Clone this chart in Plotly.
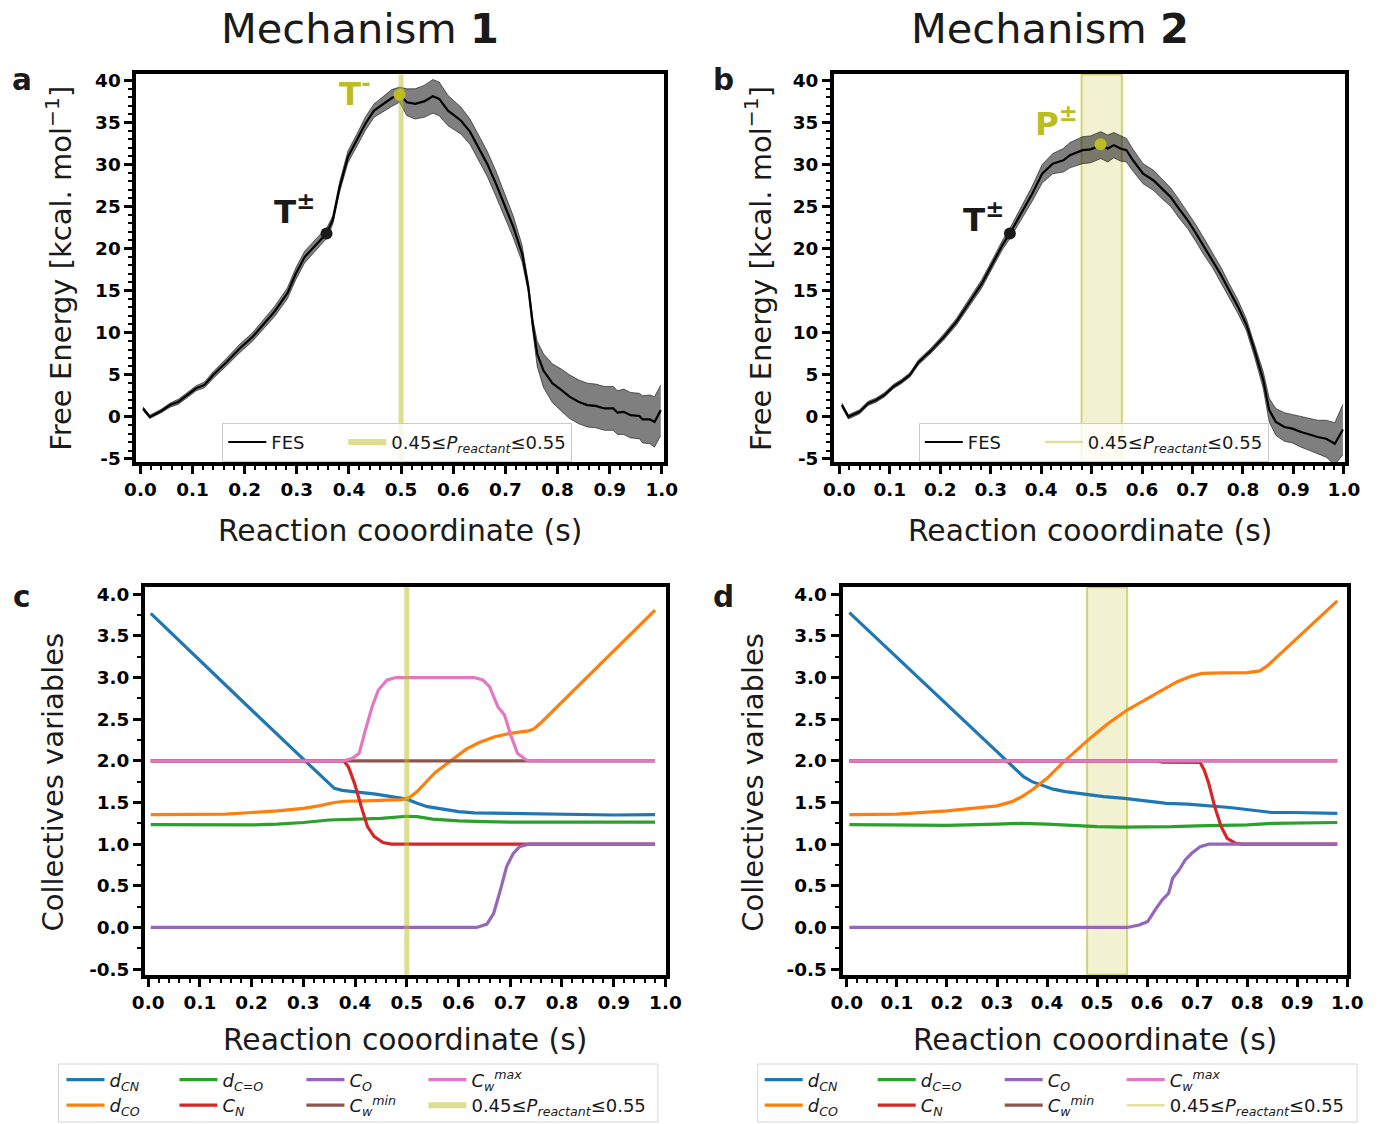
import numpy as np
import plotly.graph_objects as go

FONT = "DejaVu Sans"
W, H = 1379, 1124
OLIVE = "#bcbd22"

# Layout positions below are given in screen pixels; these constants convert
# them to figure pixels (screen = offset + scale * figure).
SX, OFF_X = 0.98, 12.5
SY, OFF_Y = 0.988, 4.5
RIGHT_COL, RIGHT_K = 833, 0.969   # right-hand panels are drawn slightly narrower

# ---------------- free-energy profiles ----------------
S_FES_1 = [0.005, 0.018, 0.04, 0.057, 0.073, 0.09, 0.107, 0.123, 0.14, 0.165, 0.19, 0.215,
           0.232, 0.257, 0.282, 0.298, 0.315, 0.332, 0.348, 0.357, 0.369, 0.382, 0.398, 0.415,
           0.432, 0.448, 0.465, 0.482, 0.497, 0.511, 0.527, 0.544, 0.561, 0.573, 0.59, 0.615,
           0.632, 0.648, 0.665, 0.682, 0.698, 0.715, 0.732, 0.744, 0.753, 0.761, 0.773, 0.79,
           0.807, 0.823, 0.84, 0.857, 0.873, 0.89, 0.907, 0.915, 0.927, 0.94, 0.957, 0.963,
           0.977, 0.986, 0.998]
G_FES_1 = [1.0, 0.0, 0.7, 1.4, 1.8, 2.6, 3.4, 3.8, 5.0, 6.5, 8.1, 9.5,
           10.7, 12.5, 14.7, 17.0, 19.0, 20.2, 21.2, 21.8, 23.4, 27.3, 30.9, 32.9,
           34.9, 36.4, 37.2, 37.9, 38.3, 37.4, 37.2, 37.5, 38.1, 37.8, 36.4, 35.2,
           33.9, 32.1, 30.1, 27.7, 25.3, 22.6, 19.4, 15.4, 10.7, 7.5, 5.5, 4.0,
           3.2, 2.4, 1.8, 1.4, 1.3, 1.0, 1.0, 0.5, 0.6, 0.2, 0.1, -0.3,
           -0.3, -0.6, 0.8]
ERR_FES_1 = [0.2, 0.2, 0.2, 0.25, 0.3, 0.3, 0.3, 0.35, 0.4, 0.45, 0.5, 0.5,
             0.55, 0.6, 0.65, 0.7, 0.7, 0.7, 0.7, 0.6, 0.5, 0.6, 0.7, 0.7,
             0.8, 0.8, 0.9, 1.0, 0.9, 1.6, 1.8, 1.9, 2.0, 2.0, 1.8, 1.6,
             1.5, 1.5, 1.5, 1.5, 1.4, 1.3, 1.0, 0.6, 0.8, 1.5, 2.0, 2.3,
             2.5, 2.6, 2.6, 2.6, 2.6, 2.6, 2.6, 2.6, 2.7, 2.7, 2.7, 2.8,
             2.9, 3.0, 3.0]

S_FES_2 = [0.005, 0.018, 0.04, 0.057, 0.073, 0.09, 0.107, 0.123, 0.14, 0.157, 0.182, 0.207,
           0.232, 0.257, 0.282, 0.307, 0.323, 0.338, 0.357, 0.382, 0.402, 0.423, 0.444, 0.457,
           0.482, 0.498, 0.518, 0.532, 0.544, 0.557, 0.569, 0.582, 0.602, 0.623, 0.64, 0.657,
           0.673, 0.69, 0.707, 0.723, 0.74, 0.757, 0.773, 0.79, 0.807, 0.823, 0.84, 0.852,
           0.865, 0.882, 0.898, 0.915, 0.932, 0.948, 0.965, 0.982, 0.998]
G_FES_2 = [1.4, 0.0, 0.6, 1.6, 2.0, 2.65, 3.6, 4.2, 5.0, 6.5, 7.9, 9.5,
           11.3, 13.5, 15.8, 18.6, 20.4, 21.8, 23.8, 26.5, 28.9, 30.1, 30.5, 31.1,
           31.7, 31.8, 32.3, 31.9, 32.3, 31.9, 31.7, 30.5, 28.9, 28.1, 27.1, 26.1,
           24.75, 23.4, 21.8, 20.2, 18.6, 16.8, 15.0, 13.1, 10.9, 7.9, 4.4, 0.8,
           -0.6, -1.2, -1.4, -1.8, -2.1, -2.4, -2.6, -3.2, -1.5]
ERR_FES_2 = [0.25, 0.25, 0.25, 0.25, 0.25, 0.25, 0.25, 0.25, 0.25, 0.3, 0.3, 0.35,
             0.4, 0.45, 0.5, 0.5, 0.55, 0.6, 0.7, 0.9, 1.1, 1.2, 1.4, 1.5,
             1.6, 1.6, 1.6, 1.6, 1.5, 1.5, 1.4, 1.3, 1.2, 1.2, 1.2, 1.1,
             1.1, 1.0, 1.0, 1.0, 0.9, 0.9, 0.8, 0.8, 0.7, 0.8, 1.0, 1.4,
             1.6, 1.7, 1.7, 1.8, 1.9, 2.0, 2.2, 2.5, 3.0]

# highlighted states on the profiles
TS_1 = dict(s=[0.357], g=[21.8])      # T±
TM_1 = dict(s=[0.497], g=[38.3])      # T-
TS_2 = dict(s=[0.338], g=[21.8])      # T±
PS_2 = dict(s=[0.5175], g=[32.4])     # P±

# s-window where 0.45 <= P_reactant <= 0.55
BAND_1 = [0.5, 0.5]
BAND_2 = [0.48, 0.56]
BAND_LABEL = "0.45≤<i>P<sub>reactant</sub></i>≤0.55"

# ---------------- collective variables, mechanism 1 ----------------
DCN_1_S = [0.005, 0.1, 0.2, 0.3, 0.34, 0.35, 0.36, 0.375, 0.4, 0.44, 0.47, 0.5, 0.52, 0.54,
           0.57, 0.6, 0.63, 0.7, 0.8, 0.9, 0.98]
DCN_1 = [3.77, 3.20, 2.61, 2.02, 1.78, 1.72, 1.67, 1.645, 1.63, 1.60, 1.57, 1.54, 1.49, 1.45,
         1.42, 1.39, 1.375, 1.37, 1.36, 1.35, 1.355]
DCO_1_S = [0.005, 0.1, 0.15, 0.2, 0.25, 0.3, 0.33, 0.36, 0.38, 0.42, 0.46, 0.49, 0.505, 0.52,
           0.555, 0.59, 0.615, 0.64, 0.67, 0.7, 0.735, 0.745, 0.76, 0.98]
DCO_1 = [1.355, 1.355, 1.36, 1.38, 1.40, 1.43, 1.46, 1.50, 1.515, 1.52, 1.525, 1.535, 1.56, 1.63,
         1.86, 2.02, 2.14, 2.22, 2.29, 2.33, 2.36, 2.38, 2.46, 3.81]
DCEO_1_S = [0.005, 0.1, 0.2, 0.25, 0.3, 0.35, 0.4, 0.45, 0.5, 0.52, 0.55, 0.6, 0.65, 0.7, 0.98]
DCEO_1 = [1.235, 1.23, 1.23, 1.24, 1.26, 1.29, 1.30, 1.31, 1.335, 1.33, 1.30, 1.28, 1.27, 1.265, 1.265]
CN_1_S = [0.005, 0.378, 0.387, 0.399, 0.412, 0.424, 0.437, 0.454, 0.47, 0.98]
CN_1 = [2.0, 2.0, 1.93, 1.73, 1.45, 1.21, 1.09, 1.02, 1.0, 1.0]
CO_1_S = [0.005, 0.635, 0.655, 0.668, 0.681, 0.693, 0.706, 0.718, 0.735, 0.98]
CO_1 = [0.0, 0.0, 0.04, 0.17, 0.45, 0.73, 0.89, 0.97, 1.0, 1.0]
CWMIN_1_S = [0.005, 0.98]
CWMIN_1 = [2.0, 2.0]
CWMAX_1_S = [0.005, 0.378, 0.395, 0.408, 0.42, 0.433, 0.445, 0.462, 0.479, 0.63, 0.647, 0.66,
             0.676, 0.689, 0.702, 0.714, 0.731, 0.74, 0.98]
CWMAX_1 = [2.0, 2.0, 2.03, 2.09, 2.37, 2.65, 2.85, 2.97, 3.0, 3.0, 2.97, 2.89,
           2.65, 2.55, 2.29, 2.09, 2.01, 2.0, 2.0]

# ---------------- collective variables, mechanism 2 ----------------
DCN_2_S = [0.005, 0.1, 0.2, 0.3, 0.32, 0.336, 0.353, 0.37, 0.387, 0.412, 0.437, 0.47, 0.513,
           0.555, 0.597, 0.639, 0.681, 0.723, 0.765, 0.807, 0.849, 0.89, 0.98]
DCN_2 = [3.78, 3.24, 2.67, 2.11, 2.0, 1.90, 1.81, 1.75, 1.71, 1.66, 1.63, 1.60, 1.57,
         1.55, 1.52, 1.49, 1.48, 1.46, 1.44, 1.41, 1.38, 1.38, 1.37]
DCO_2_S = [0.005, 0.1, 0.2, 0.25, 0.3, 0.33, 0.35, 0.37, 0.4, 0.43, 0.45, 0.48, 0.5, 0.52,
           0.56, 0.6, 0.63, 0.66, 0.69, 0.71, 0.75, 0.8, 0.825, 0.84, 0.98]
DCO_2 = [1.355, 1.36, 1.40, 1.43, 1.46, 1.51, 1.57, 1.65, 1.79, 1.97, 2.08, 2.24, 2.34, 2.44,
         2.61, 2.75, 2.85, 2.95, 3.02, 3.05, 3.055, 3.06, 3.08, 3.14, 3.92]
DCEO_2_S = [0.005, 0.1, 0.2, 0.3, 0.35, 0.4, 0.45, 0.5, 0.55, 0.6, 0.65, 0.7, 0.75, 0.8,
            0.85, 0.9, 0.98]
DCEO_2 = [1.235, 1.23, 1.225, 1.24, 1.25, 1.24, 1.225, 1.21, 1.205, 1.205, 1.21, 1.22, 1.225,
          1.23, 1.25, 1.255, 1.26]
CN_2_S = [0.005, 0.62, 0.63, 0.7, 0.706, 0.714, 0.723, 0.735, 0.748, 0.76, 0.777, 0.79, 0.98]
CN_2 = [2.0, 2.0, 1.985, 1.985, 1.98, 1.89, 1.73, 1.45, 1.21, 1.07, 1.01, 1.0, 1.0]
CO_2_S = [0.005, 0.56, 0.584, 0.601, 0.618, 0.63, 0.643, 0.651, 0.664, 0.676, 0.689, 0.706,
          0.723, 0.98]
CO_2 = [0.0, 0.0, 0.03, 0.07, 0.23, 0.33, 0.41, 0.59, 0.69, 0.81, 0.89, 0.97, 1.0, 1.0]
CWMIN_2_S = [0.005, 0.98]
CWMIN_2 = [2.0, 2.0]
CWMAX_2_S = [0.005, 0.98]
CWMAX_2 = [2.0, 2.0]

# ---------------- tick labels ----------------
X_TICKS = [round(0.1 * i, 1) for i in range(11)]
X_TICK_TEXT = ["0.0", "0.1", "0.2", "0.3", "0.4", "0.5", "0.6", "0.7", "0.8", "0.9", "1.0"]
FE_TICKS = [-5, 0, 5, 10, 15, 20, 25, 30, 35, 40]
FE_TICK_TEXT = ["-5", "0", "5", "10", "15", "20", "25", "30", "35", "40"]
CV_TICKS = [-0.5, 0.0, 0.5, 1.0, 1.5, 2.0, 2.5, 3.0, 3.5, 4.0]
CV_TICK_TEXT = ["-0.5", "0.0", "0.5", "1.0", "1.5", "2.0", "2.5", "3.0", "3.5", "4.0"]


def px(t, squeeze=True):
    """screen x pixel -> paper fraction"""
    if squeeze and t > RIGHT_COL:
        t = RIGHT_COL + (t - RIGHT_COL) * RIGHT_K
    return (t - OFF_X) / SX / W


def py(t):
    """screen y pixel (from top) -> paper fraction"""
    return 1 - (t - OFF_Y) / SY / H


fig = go.Figure()


def add_fes(xa, ya, s, g, err, legend):
    s = np.asarray(s)
    g = np.asarray(g)
    e = np.asarray(err)
    edge = dict(color="rgba(0,0,0,0.55)", width=1)
    fig.add_trace(go.Scatter(x=s, y=g + e, mode="lines", line=edge, showlegend=False,
                             hoverinfo="skip", xaxis=xa, yaxis=ya))
    fig.add_trace(go.Scatter(x=s, y=g - e, mode="lines", line=edge, fill="tonexty",
                             fillcolor="rgba(0,0,0,0.5)", showlegend=False,
                             hoverinfo="skip", xaxis=xa, yaxis=ya))
    fig.add_trace(go.Scatter(x=s, y=g, mode="lines", name="FES",
                             line=dict(color="black", width=2.2), legend=legend,
                             legendwidth=67, xaxis=xa, yaxis=ya))


def add_point(xa, ya, pt, color):
    fig.add_trace(go.Scatter(x=pt["s"], y=pt["g"], mode="markers",
                             marker=dict(color=color, size=12, line=dict(width=0)),
                             showlegend=False, xaxis=xa, yaxis=ya))


def add_band_legend(xa, ya, legend, width, color):
    fig.add_trace(go.Scatter(x=[None], y=[None], mode="lines", name=BAND_LABEL,
                             line=dict(color=color, width=width), legend=legend,
                             xaxis=xa, yaxis=ya))


# panel a / b : free energy
add_fes("x", "y", S_FES_1, G_FES_1, ERR_FES_1, "legend")
add_point("x", "y", TS_1, "#1a1a1a")
add_point("x", "y", TM_1, OLIVE)
add_band_legend("x", "y", "legend", 6, "rgba(188,189,34,0.5)")

add_fes("x2", "y2", S_FES_2, G_FES_2, ERR_FES_2, "legend2")
add_point("x2", "y2", TS_2, "#1a1a1a")
add_point("x2", "y2", PS_2, OLIVE)
add_band_legend("x2", "y2", "legend2", 2.5, "rgba(188,189,34,0.45)")

# panel c / d : collective variables
CV_STYLE = [
    ("<i>d<sub>CN</sub></i>", "#1f77b4", 60),
    ("<i>d<sub>CO</sub></i>", "#ff7f0e", 60),
    ("<i>d<sub>C=O</sub></i>", "#2ca02c", 74),
    ("<i>C<sub>N</sub></i>", "#d62728", 74),
    ("<i>C<sub>O</sub></i>", "#9467bd", 69),
    ("<i>C<sub>w</sub><sup>min</sup></i>", "#8c564b", 69),
    ("<i>C<sub>w</sub><sup>max</sup></i>", "#e377c2", 120),
]
CV_1 = [(DCN_1_S, DCN_1), (DCO_1_S, DCO_1), (DCEO_1_S, DCEO_1), (CN_1_S, CN_1),
        (CO_1_S, CO_1), (CWMIN_1_S, CWMIN_1), (CWMAX_1_S, CWMAX_1)]
CV_2 = [(DCN_2_S, DCN_2), (DCO_2_S, DCO_2), (DCEO_2_S, DCEO_2), (CN_2_S, CN_2),
        (CO_2_S, CO_2), (CWMIN_2_S, CWMIN_2), (CWMAX_2_S, CWMAX_2)]

# legend rows: first row holds d_CN, d_C=O, C_O, C_w^max ; second row the others
ROW_OF = [0, 1, 0, 1, 0, 1, 0]

for series, xa, ya, rows in ((CV_1, "x3", "y3", ("legend3", "legend4")),
                             (CV_2, "x4", "y4", ("legend5", "legend6"))):
    for (s, v), (name, color, lw), r in zip(series, CV_STYLE, ROW_OF):
        fig.add_trace(go.Scatter(x=s, y=v, mode="lines", name=name,
                                 line=dict(color=color, width=3.2), legend=rows[r],
                                 legendwidth=lw, xaxis=xa, yaxis=ya))

add_band_legend("x3", "y3", "legend4", 6, "rgba(188,189,34,0.5)")
add_band_legend("x4", "y4", "legend6", 2.5, "rgba(188,189,34,0.45)")

# ---------------- axes ----------------
common = dict(showline=True, linecolor="black", linewidth=4, mirror=True,
              ticks="outside", ticklen=8, tickwidth=3, tickcolor="black",
              showgrid=False, zeroline=False, fixedrange=True,
              tickfont=dict(family=FONT, size=18.4, color="black", weight="bold"))


def xax(x0, x1, rng, anchor):
    return dict(domain=[px(x0), px(x1)], range=rng, anchor=anchor, tickmode="array",
                tickvals=X_TICKS, ticktext=X_TICK_TEXT, ticklabeloverflow="allow",
                minor=dict(ticks="outside", ticklen=4, tickwidth=2, tickcolor="black",
                           tickmode="linear", tick0=0, dtick=0.02, showgrid=False),
                **common)


def yax(top, bottom, rng, anchor, vals, text, minor_step):
    return dict(domain=[py(bottom), py(top)], range=rng, anchor=anchor, tickmode="array",
                tickvals=vals, ticktext=text,
                minor=dict(ticks="outside", ticklen=4, tickwidth=2, tickcolor="black",
                           tickmode="linear", tick0=0, dtick=minor_step, showgrid=False),
                **common)


layout_axes = dict(
    xaxis=xax(136, 664, [-0.0077, 1.0038], "y"),
    yaxis=yax(74, 462, [-5.4, 40.7], "x", FE_TICKS, FE_TICK_TEXT, 1),
    xaxis2=xax(834.5, 1362.7, [-0.0104, 1.0029], "y2"),
    yaxis2=yax(74, 462, [-5.4, 40.7], "x2", FE_TICKS, FE_TICK_TEXT, 1),
    xaxis3=xax(144.7, 665.8, [-0.006, 1.0004], "y3"),
    yaxis3=yax(587, 974.7, [-0.568, 4.084], "x3", CV_TICKS, CV_TICK_TEXT, 0.25),
    xaxis4=xax(843.2, 1364.8, [-0.0087, 1.0002], "y4"),
    yaxis4=yax(587, 974.7, [-0.568, 4.084], "x4", CV_TICKS, CV_TICK_TEXT, 0.25),
)

# ---------------- reactant-probability window ----------------
shapes = []
for band, xa, ya in ((BAND_1, "x", "y"), (BAND_1, "x3", "y3")):
    shapes.append(dict(type="line", xref=xa, yref=ya + " domain", x0=band[0], x1=band[1],
                       y0=0, y1=1, line=dict(color="rgba(188,189,34,0.5)", width=5),
                       layer="above"))
for band, xa, ya in ((BAND_2, "x2", "y2"), (BAND_2, "x4", "y4")):
    shapes.append(dict(type="rect", xref=xa, yref=ya + " domain", x0=band[0], x1=band[1],
                       y0=0, y1=1, fillcolor="rgba(188,189,34,0.2)",
                       line=dict(color="rgba(188,189,34,0.6)", width=2), layer="below"))

# frames around the shared legends under panels c and d
for x0, x1 in ((58, 658), (758, 1358)):
    shapes.append(dict(type="rect", xref="paper", yref="paper",
                       x0=px(x0, squeeze=False), x1=px(x1, squeeze=False),
                       y0=py(1122), y1=py(1064), fillcolor="white",
                       line=dict(color="#d5d5d5", width=1), layer="below"))

# ---------------- legends ----------------
LEG_FONT = dict(family=FONT, size=18, color="#1a1a1a")


def boxed_legend(x):
    return dict(x=px(x), y=py(442), xanchor="left", yanchor="middle", orientation="h",
                traceorder="normal",
                bgcolor="rgba(255,255,255,0.8)", bordercolor="#cccccc", borderwidth=1,
                font=LEG_FONT, itemwidth=38, itemclick=False, itemdoubleclick=False)


def row_legend(x, y):
    return dict(x=px(x), y=py(y), xanchor="left", yanchor="middle", orientation="h",
                traceorder="normal",
                bgcolor="rgba(0,0,0,0)", borderwidth=0, font=LEG_FONT, itemwidth=38,
                itemclick=False, itemdoubleclick=False)


# ---------------- text ----------------
annotations = []


def text(x, y, s, size, color="#1a1a1a", angle=0, xref="paper", yref="paper"):
    annotations.append(dict(x=x, y=y, xref=xref, yref=yref, text=s, showarrow=False,
                            xanchor="center", yanchor="middle", textangle=angle,
                            font=dict(family=FONT, size=size, color=color)))


text(px(360), py(28), "Mechanism <b>1</b>", 41.5)
text(px(1058), py(28), "Mechanism <b>2</b>", 41.5)
for letter, x, y in (("a", 22, 80), ("b", 724, 80), ("c", 22, 597), ("d", 724, 597)):
    text(px(x), py(y), "<b>%s</b>" % letter, 29.5)

FE_TITLE = "Free Energy [kcal. mol<sup>−1</sup>]"
CV_TITLE = "Collectives variables"
S_TITLE = "Reaction cooordinate (s)"
text(px(59), py(268), FE_TITLE, 29, angle=-90)
text(px(759), py(268), FE_TITLE, 29, angle=-90)
text(px(53), py(782), CV_TITLE, 29, angle=-90)
text(px(753), py(782), CV_TITLE, 29, angle=-90)
text(px(400), py(530), S_TITLE, 29.8)
text(px(1099), py(530), S_TITLE, 29.8)
text(px(405), py(1039), S_TITLE, 29.8)
text(px(1104), py(1039), S_TITLE, 29.8)

text(0.296, 24.6, "<b>T<sup>±</sup></b>", 32.5, xref="x", yref="y")
text(0.412, 38.7, "<b>T<sup>-</sup></b>", 32.5, color=OLIVE, xref="x", yref="y")
text(0.286, 23.7, "<b>T<sup>±</sup></b>", 32.5, xref="x2", yref="y2")
text(0.43, 35.1, "<b>P<sup>±</sup></b>", 32.5, color=OLIVE, xref="x2", yref="y2")

fig.update_layout(
    width=W, height=H, margin=dict(l=0, r=0, t=0, b=0),
    paper_bgcolor="white", plot_bgcolor="white",
    font=dict(family=FONT, color="#1a1a1a"),
    shapes=shapes, annotations=annotations,
    legend=boxed_legend(222), legend2=boxed_legend(922),
    legend3=row_legend(61, 1080), legend4=row_legend(61, 1106),
    legend5=row_legend(760, 1080), legend6=row_legend(760, 1106),
    **layout_axes,
)

fig.write_html("out.html")
